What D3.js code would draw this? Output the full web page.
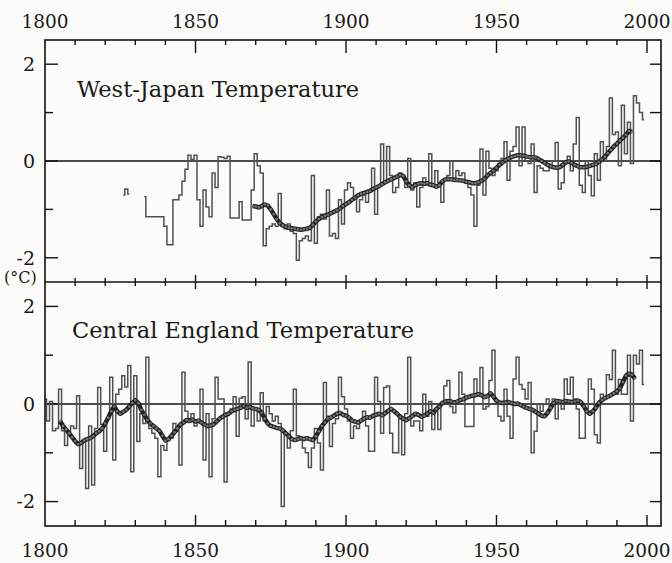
<!DOCTYPE html>
<html>
<head>
<meta charset="utf-8">
<script src="https://cdn.jsdelivr.net/npm/d3@7"></script>
<style>
    body { margin: 0; background: #fbfbf9; }
    text { font-family: "DejaVu Serif", serif; fill: #1a1a1a; }
</style>
</head>
<body>
<svg id="viz" width="672" height="563"></svg>
<script>
// ---- data (anomalies in deg C) ----
const yearLabels = [1800, 1850, 1900, 1950, 2000];
const tempLabels = [2, 0, -2];

// West-Japan: short early fragment, then the continuous record
const wjFragmentStart = 1826;
const wjFragment = [-0.7, -0.58, -0.68];

const wjStart = 1833;
const wjTemp = [
    -0.74, -1.15, -1.15, -1.15, -1.15, -1.15, -1.15,
    -1.35, -1.73, -1.73, -0.8, -0.8, -0.7, -0.42, -0.17, 0.12, 0.03,
    0.12, -0.8, -1.35, -0.6, -0.95, -1.15, -0.25, -0.55, 0.09, 0.08,
    0.05, 0.1, -1.18, -1.18, -1.18, -0.84, -1.22, -1.22, -1.22, -0.6,
    0.15, -0.1, -0.25, -1.75, -1.4, -1.35, -1.3, -1.35, -0.67, -1.35,
    -1.4, -1.3, -1.45, -1.5, -2.05, -1.65, -1.6, -1.55, -1.65, -0.3,
    -1.7, -1.15, -1.1, -1.2, -0.6, -1.55, -1.5, -1.6, -0.8, -1.3,
    -0.6, -0.45, -0.55, -0.75, -1.05, -0.8, -0.7, -0.85, -0.6, -0.15,
    -1.1, -0.5, 0.35, -0.45, 0.3, -0.3, -0.65, -0.55, -0.25, -0.3,
    -0.55, 0.05, -0.6, -0.45, -0.95, -0.55, -0.35, -0.45, 0.15, -0.5,
    -0.2, -0.45, -0.85, -0.4, -0.3, 0.0, -0.35, -0.2, -0.3, -0.25,
    -0.45, -0.55, -0.7, -1.35, -0.5, 0.25, -0.7, 0.2, -0.15, -0.3,
    -0.2, -0.05, 0.05, 0.4, -0.4, 0.2, 0.3, 0.7, -0.1, 0.7,
    0.0, -0.05, 0.35, -0.65, -0.1, -0.15, -0.2, -0.2, -0.1, 0.0,
    0.38, -0.58, -0.45, -0.05, 0.1, -0.2, 0.35, 0.9, -0.5, -0.65,
    0.0, -0.3, -0.72, 0.15, -0.4, 0.4, 0.0, 0.3, 1.3, 0.55,
    0.6, -0.1, 1.15, 0.15, 0.8, -0.05, 1.35, 1.2, 1.0, 0.85
];

const wjSmoothStart = 1869;
const wjSmooth = [
    -0.93, -0.94, -0.96, -0.93, -0.9, -0.92, -1.0, -1.1, -1.2, -1.28, -1.33,
    -1.36, -1.38, -1.39, -1.4, -1.41, -1.42, -1.41, -1.4, -1.38, -1.32,
    -1.25, -1.2, -1.16, -1.13, -1.11, -1.08, -1.05, -1.02, -0.98, -0.93,
    -0.89, -0.85, -0.8, -0.76, -0.71, -0.68, -0.66, -0.64, -0.62, -0.58,
    -0.55, -0.52, -0.48, -0.44, -0.41, -0.38, -0.35, -0.32, -0.29, -0.31,
    -0.42, -0.5, -0.54, -0.5, -0.47, -0.46, -0.47, -0.46, -0.49, -0.5,
    -0.53, -0.5, -0.42, -0.38, -0.37, -0.38, -0.39, -0.39, -0.4, -0.41,
    -0.43, -0.44, -0.46, -0.46, -0.44, -0.41, -0.37, -0.3, -0.25, -0.2,
    -0.14, -0.08, -0.03, 0.02, 0.05, 0.08, 0.1, 0.12, 0.12, 0.11,
    0.09, 0.08, 0.08, 0.07, 0.04, 0.0, -0.04, -0.08, -0.11, -0.13,
    -0.14, -0.13, -0.08, -0.03, -0.01, -0.04, -0.08, -0.11, -0.13, -0.13,
    -0.12, -0.1, -0.08, -0.06, -0.02, 0.03, 0.09, 0.16, 0.23, 0.3,
    0.36, 0.42, 0.48, 0.54, 0.62, 0.6
];

// Central England
const ceStart = 1800;
const ceTemp = [
    0.1, -0.35, 0.05, -0.55, -0.5, 0.3, -0.55, -0.85, -0.6, -0.45,
    -0.5, 0.17, -1.32, -0.75, -1.73, -0.45, -1.66, -0.5, 0.34, -0.42,
    -0.97, -0.3, 0.55, -1.15, 0.2, 0.3, 0.58, 0.35, 0.79, -1.39,
    0.58, -0.77, -0.2, -0.4, 0.96, -0.5, -0.6, -0.7, -1.49, -0.85,
    -0.95, -0.75, -0.7, -0.4, -0.55, -1.25, 0.65, -0.15, -0.3, -0.2,
    -0.45, -0.35, 0.3, -1.15, -0.2, -1.49, -0.3, 0.55, 0.1, 0.1,
    -1.6, -0.2, -0.1, 0.15, -0.66, 0.12, 0.15, -0.3, 0.86, -0.45,
    -0.1, -0.35, 0.23, -0.35, -0.05, -0.2, -0.35, -0.25, -0.4, -2.1,
    -0.6, -0.9, -0.55, 0.3, -0.65, -0.7, -0.9, -1.0, -1.3, -0.9,
    -0.5, -0.8, -1.35, 0.44, -0.25, -0.87, -0.4, -0.3, 0.55, 0.15,
    -0.1, -0.35, -0.7, -0.45, -0.5, -0.35, -0.15, -0.45, -0.97, -0.97,
    0.55, 0.05, -0.6, 0.34, 0.37, -0.6, -1.0, -1.0, -0.3, -1.04,
    -0.2, 0.96, -0.45, -0.35, -0.35, -0.55, 0.2, -0.25, 0.05, -0.52,
    -0.1, -0.52, 0.0, 0.37, 0.48, -0.05, -0.18, 0.0, 0.65, 0.2,
    -0.46, -0.46, -0.46, 0.51, 0.2, 0.75, -0.1, -0.05, 0.48, 1.1,
    0.05, -0.25, -0.35, 0.3, -0.25, -0.7, 0.51, 0.96, 0.4, 0.3,
    0.1, 0.44, -1.0, -0.56, 0.0, -0.15, 0.0, 0.1, -0.05, 0.1,
    -0.3, 0.0, -0.1, 0.51, 0.2, 0.55, 0.1, -0.1, -0.7, -0.7,
    -0.1, 0.51, 0.3, -0.63, -0.8, 0.2, 0.15, 0.6, 0.5, 1.1,
    0.2, 0.5, 0.2, 0.2, 1.0, -0.35, 1.0, 0.82, 1.1, 0.4
];

const ceSmoothStart = 1805;
const ceSmooth = [
    -0.35, -0.45, -0.52, -0.6, -0.68,
    -0.76, -0.82, -0.8, -0.75, -0.72, -0.7, -0.66, -0.6, -0.56, -0.5,
    -0.4, -0.28, -0.15, -0.05, -0.15, -0.2, -0.16, -0.12, -0.05, 0.02,
    0.08, 0.02, -0.12, -0.22, -0.33, -0.4, -0.45, -0.5, -0.55, -0.65,
    -0.75, -0.72, -0.65, -0.58, -0.5, -0.42, -0.38, -0.33, -0.35, -0.32,
    -0.36, -0.34, -0.38, -0.42, -0.45, -0.44, -0.42, -0.36, -0.3, -0.26,
    -0.22, -0.2, -0.15, -0.12, -0.1, -0.08, -0.04, -0.08, -0.06, -0.09,
    -0.1, -0.12, -0.18, -0.3, -0.4, -0.45, -0.47, -0.49, -0.5, -0.54,
    -0.6, -0.66, -0.72, -0.74, -0.72, -0.7, -0.72, -0.7, -0.72, -0.74,
    -0.66, -0.56, -0.45, -0.38, -0.3, -0.28, -0.24, -0.2, -0.18, -0.22,
    -0.24, -0.28, -0.34, -0.36, -0.38, -0.34, -0.3, -0.27, -0.28, -0.24,
    -0.22, -0.2, -0.23, -0.19, -0.14, -0.1, -0.15, -0.2, -0.26, -0.3,
    -0.33, -0.29, -0.25, -0.2, -0.22, -0.26, -0.24, -0.2, -0.15, -0.18,
    -0.1, -0.05, 0.02, 0.05, 0.06, 0.05, 0.03, 0.05, 0.08, 0.1,
    0.13, 0.15, 0.17, 0.18, 0.2, 0.18, 0.14, 0.16, 0.22, 0.15,
    0.07, 0.03, 0.02, 0.03, 0.04, 0.02, 0.0, 0.01, -0.02, -0.05,
    -0.08, -0.1, -0.12, -0.16, -0.2, -0.24, -0.25, -0.18, -0.08, 0.02,
    0.06, 0.05, 0.04, 0.06, 0.05, 0.04, 0.05, 0.07, 0.04, -0.05,
    -0.15, -0.2, -0.15, -0.08, 0.02, 0.08, 0.12, 0.15, 0.18, 0.22,
    0.26, 0.32, 0.45, 0.58, 0.62, 0.6, 0.52
];

// ---- layout ----
const left = 45, right = 661;
const x = d3.scaleLinear().domain([1800, 2000]).range([45, 647]);

function toPoints(start, values) {
    return values.map((v, i) => ({ year: start + i, value: v }));
}

let svg = d3.select("#viz");

const panels = [
    { title: "West-Japan Temperature", top: 40, bottom: 282, titleX: 77, titleY: 97,
      series: [toPoints(wjFragmentStart, wjFragment), toPoints(wjStart, wjTemp)],
      smooth: toPoints(wjSmoothStart, wjSmooth) },
    { title: "Central England Temperature", top: 282, bottom: 526, titleX: 72, titleY: 338,
      series: [toPoints(ceStart, ceTemp)],
      smooth: toPoints(ceSmoothStart, ceSmooth) }
];

function drawPanel(p) {
    let g = svg.append("g");
    let y = d3.scaleLinear().domain([-2.5, 2.5]).range([p.bottom, p.top]);

    // zero line
    g.append("line")
        .attr("x1", left).attr("x2", right)
        .attr("y1", y(0)).attr("y2", y(0))
        .attr("stroke", "#111").attr("stroke-width", 1.5);

    // left / right ticks
    d3.range(-2, 3).forEach(v => {
        let len = (v % 2 == 0) ? 13 : 8;
        g.append("line")
            .attr("x1", left).attr("x2", left + len)
            .attr("y1", y(v)).attr("y2", y(v))
            .attr("stroke", "#111").attr("stroke-width", 1.4);
        g.append("line")
            .attr("x1", right - 11).attr("x2", right)
            .attr("y1", y(v)).attr("y2", y(v))
            .attr("stroke", "#111").attr("stroke-width", 1.4);
    });

    g.selectAll(".ylab")
        .data(tempLabels)
        .join("text")
        .attr("x", 35)
        .attr("y", d => y(d))
        .attr("dy", "0.36em")
        .attr("text-anchor", "end")
        .attr("font-size", 19)
        .text(d => d);

    g.append("text")
        .attr("x", p.titleX).attr("y", p.titleY)
        .attr("font-size", 22.5)
        .text(p.title);

    // annual values as steps
    let step = d3.line()
        .x(d => x(d.year))
        .y(d => y(d.value))
        .curve(d3.curveStep);

    g.selectAll(".annual")
        .data(p.series)
        .join("path")
        .attr("d", step)
        .attr("fill", "none")
        .attr("stroke", "#505050")
        .attr("stroke-width", 1.5);

    // running mean: thick line with beads
    let smoothLine = d3.line()
        .x(d => x(d.year))
        .y(d => y(d.value));

    g.append("path")
        .datum(p.smooth)
        .attr("d", smoothLine)
        .attr("fill", "none")
        .attr("stroke", "#222")
        .attr("stroke-width", 4.5)
        .attr("stroke-linejoin", "round");

    g.selectAll(".bead")
        .data(p.smooth)
        .join("circle")
        .attr("cx", d => x(d.year))
        .attr("cy", d => y(d.value))
        .attr("r", 1.3)
        .attr("fill", "#777");
}

panels.forEach(drawPanel);

// frame
svg.append("rect")
    .attr("x", left).attr("y", 40)
    .attr("width", right - left).attr("height", 526 - 40)
    .attr("fill", "none").attr("stroke", "#111").attr("stroke-width", 1.6);
svg.append("line")
    .attr("x1", left).attr("x2", right).attr("y1", 282).attr("y2", 282)
    .attr("stroke", "#111").attr("stroke-width", 1.6);

// year ticks: top (inward), divider (crossing), bottom (inward)
let decades = d3.range(1810, 2001, 10);
decades.forEach(yr => {
    let major = yr % 50 == 0;
    let xx = x(yr);
    svg.append("line").attr("x1", xx).attr("x2", xx)
        .attr("y1", 40).attr("y2", 40 + (major ? 13 : 5))
        .attr("stroke", "#111").attr("stroke-width", 1.4);
    svg.append("line").attr("x1", xx).attr("x2", xx)
        .attr("y1", 282 - (major ? 7 : 4)).attr("y2", 282 + (major ? 7 : 4))
        .attr("stroke", "#111").attr("stroke-width", 1.4);
    svg.append("line").attr("x1", xx).attr("x2", xx)
        .attr("y1", 526).attr("y2", 526 - (major ? 11 : 6))
        .attr("stroke", "#111").attr("stroke-width", 1.4);
});

svg.selectAll(".xtop")
    .data(yearLabels)
    .join("text")
    .attr("x", d => x(d)).attr("y", 28)
    .attr("text-anchor", "middle")
    .attr("font-size", 18.5)
    .text(d => d);

svg.selectAll(".xbot")
    .data(yearLabels)
    .join("text")
    .attr("x", d => x(d)).attr("y", 557)
    .attr("text-anchor", "middle")
    .attr("font-size", 18.5)
    .text(d => d);

svg.append("text")
    .attr("x", 4).attr("y", 283)
    .attr("font-size", 16)
    .text("(\u00B0C)");
</script>
</body>
</html>
